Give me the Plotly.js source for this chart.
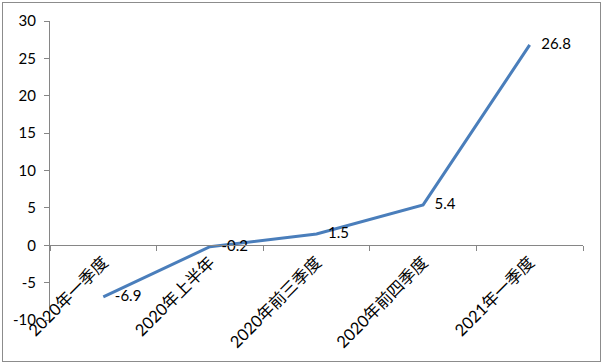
<!DOCTYPE html>
<html>
<head>
<meta charset="utf-8">
<script src="https://cdn.plot.ly/plotly-3.0.1.min.js"></script>
<style>
body{margin:0;padding:0;background:#fff;}
#wrap{position:relative;width:604px;height:364px;}
#chart{width:604px;height:364px;}
#frame{position:absolute;left:2px;top:2px;width:597px;height:358px;border:1px solid #8c8c8c;pointer-events:none;}
</style>
</head>
<body>
<div id="wrap"><div id="chart"></div><div id="frame"></div></div>
<script>
const categories = ["2020年一季度", "2020年上半年", "2020年前三季度", "2020年前四季度", "2021年一季度"];
const values = [-6.9, -0.2, 1.5, 5.4, 26.8];
const labels = ["-6.9", "-0.2", "1.5", "5.4", "26.8"];
const yTicks = [-10, -5, 0, 5, 10, 15, 20, 25, 30];

const fontFam = "Lato, 'Noto Sans CJK SC', sans-serif";

const trace = {
  x: categories,
  y: values,
  type: "scatter",
  mode: "lines+text",
  text: labels.map(s => "\u00a0\u00a0\u00a0" + s),
  textposition: "middle right",
  textfont: {family: fontFam, size: 15, color: "#000"},
  line: {color: "#4a7ebb", width: 3},
  cliponaxis: false,
  hoverinfo: "skip"
};

const yMin = -10, yMax = 30;
const layout = {
  width: 604, height: 364,
  margin: {l: 50, r: 21, t: 21, b: 44, pad: 0},
  paper_bgcolor: "#fff",
  plot_bgcolor: "#fff",
  showlegend: false,
  font: {family: fontFam, size: 15, color: "#000"},
  xaxis: {
    type: "category",
    range: [-0.5, 4.5],
    showgrid: false,
    zeroline: false,
    showline: true,
    linecolor: "#868686",
    linewidth: 1,
    ticks: "outside",
    ticklen: 5,
    tickcolor: "#868686",
    tickson: "boundaries",
    tickangle: -45,
    tickfont: {family: fontFam, size: 16.5, color: "#000"},
    anchor: "free",
    position: (0 - yMin) / (yMax - yMin),
    automargin: false
  },
  yaxis: {
    range: [yMin, yMax],
    tickvals: yTicks,
    ticktext: yTicks.map(String),
    showgrid: false,
    zeroline: false,
    showline: true,
    linecolor: "#868686",
    linewidth: 1,
    ticks: "outside",
    ticklen: 5,
    tickcolor: "#868686",
    ticklabelstandoff: 5,
    tickfont: {family: fontFam, size: 15, color: "#000"},
    automargin: false
  }
};

Plotly.newPlot("chart", [trace], layout, {staticPlot: true, displayModeBar: false});
</script>
</body>
</html>
